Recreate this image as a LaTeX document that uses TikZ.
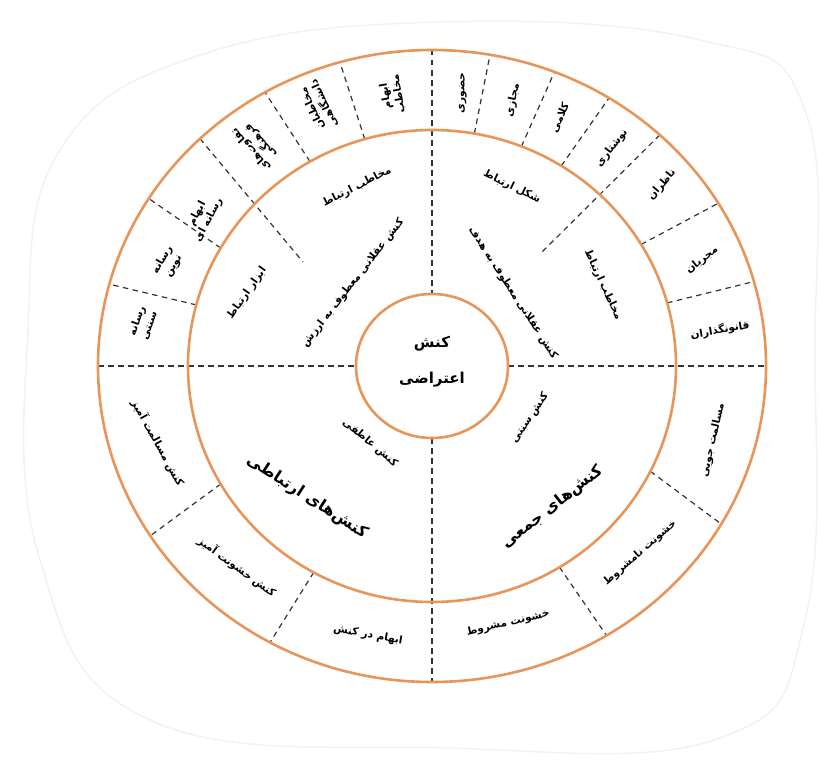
\documentclass[tikz,border=0pt]{standalone}
\usepackage{fontspec}
\newfontfamily\fafont[Script=Arabic]{DejaVu Sans}
\TeXXeTstate=1
\usetikzlibrary{calc}
\definecolor{ring}{HTML}{E8955A}
\newcommand\fatxt[1]{\beginR #1\endR}
\newcommand\ringdiv[2]{\draw[divline] ({432+244*cos(#1)},{366-236*sin(#1)}) -- ({432+334*cos(#2)},{366-316*sin(#2)});}
\begin{document}
\begin{tikzpicture}[x=1pt,y=-1pt,
  ringline/.style={draw=ring,line width=2.6pt},
  divline/.style={draw=black!80,line width=1.2pt,dash pattern=on 5.5pt off 4.5pt},
  lab/.style={font=\fafont\bfseries\fontsize{10.5}{13}\selectfont,align=center,inner sep=1pt},
  midlab/.style={font=\fafont\bfseries\fontsize{10.5}{12}\selectfont,inner sep=1pt},
  biglab/.style={font=\fafont\bfseries\fontsize{16}{18}\selectfont,inner sep=1pt},
  cenlab/.style={font=\fafont\bfseries\fontsize{15}{36}\selectfont,align=center,inner sep=1pt},
]
\useasboundingbox (0,0) rectangle (840,760);
\draw[gray!10,line width=1.5pt] plot[smooth cycle,tension=0.7] coordinates {(60,150) (200,55) (440,22) (700,40) (805,110) (815,350) (805,620) (720,738) (450,748) (150,720) (40,560) (28,330)};
\coordinate (C) at (432,366);
% axis dashes
\draw[divline] (432,50) -- (432,294);
\draw[divline] (432,438) -- (432,682);
\draw[divline] (98,366) -- (356,366);
\draw[divline] (508,366) -- (766,366);
% outer ring dividers
\ringdiv{165}{165}
\ringdiv{150}{148}
\ringdiv{120}{120}
\ringdiv{106}{106}
\ringdiv{80}{80}
\ringdiv{68.5}{68.5}
\ringdiv{58}{58}
\ringdiv{31}{31}
\ringdiv{15.5}{15.5}
\ringdiv{-26.5}{-30}
\ringdiv{-58.5}{-58.5}
\ringdiv{210}{212.5}
\ringdiv{241}{241}
% long dividers
\coordinate (ulend) at (303,262);
\coordinate (urend) at (542,252);
\draw[divline] ({432+334*cos(134)},{366-316*sin(134)}) -- (ulend);
\draw[divline] ({432+334*cos(47)},{366-316*sin(47)}) -- (urend);
% rings
\draw[ringline] (C) ellipse [x radius=334, y radius=316];
\draw[ringline] (C) ellipse [x radius=244, y radius=236];
\draw[ringline,fill=white] (C) ellipse [x radius=76, y radius=72];
% centre
\node[cenlab] (centre) at (432,362) {\fatxt{کنش}\\\fatxt{اعتراضی}};
% middle ring labels
\node[midlab,rotate=27] (m1) at (357,187) {\fatxt{مخاطب ارتباط}};
\node[midlab,rotate=52] (m2) at (353,283) {\fatxt{کنش عقلانی معطوف به ارزش}};
\node[midlab,rotate=55] (m3) at (247,293) {\fatxt{ابزار ارتباط}};
\node[midlab,rotate=-26] (m4) at (512,187) {\fatxt{شکل ارتباط}};
\node[midlab,rotate=-57] (m5) at (513,293) {\fatxt{کنش عقلانی معطوف به هدف}};
\node[midlab,rotate=-65] (m6) at (603,285) {\fatxt{مخاطب ارتباط}};
\node[midlab,rotate=-40] (m7) at (370,443) {\fatxt{کنش عاطفی}};
\node[midlab,rotate=56] (m8) at (530,418) {\fatxt{کنش سنتی}};
\node[biglab,rotate=-33] (m9) at (307,497) {\fatxt{کنش‌های ارتباطی}};
\node[biglab,rotate=38] (m10) at (553,507) {\fatxt{کنش‌های جمعی}};
% outer ring labels, upper left
\node[lab,rotate=70] (o1) at (143,323) {\fatxt{رسانه}\\\fatxt{سنتی}};
\node[lab,rotate=60] (o2) at (168,263) {\fatxt{رسانه}\\\fatxt{نوین}};
\node[lab,rotate=62] (o3) at (203,217) {\fatxt{ابهام}\\\fatxt{رسانه ای}};
\node[lab,rotate=132] (o4) at (256,145) {\fatxt{تفاوت‌های}\\\fatxt{فرهنگی}};
\node[lab,rotate=115] (o5) at (318,106) {\fatxt{مخاطبان}\\\fatxt{دانشگاهی}};
\node[lab,rotate=100] (o6) at (392,95) {\fatxt{ابهام}\\\fatxt{مخاطب}};
% upper right
\node[lab,rotate=88] (o7) at (463,93) {\fatxt{حضوری}};
\node[lab,rotate=78] (o8) at (513,100) {\fatxt{مجازی}};
\node[lab,rotate=66] (o9) at (560,118) {\fatxt{کلامی}};
\node[lab,rotate=52] (o10) at (612,148) {\fatxt{نوشتاری}};
\node[lab,rotate=50] (o11) at (662,185) {\fatxt{ناظران}};
\node[lab,rotate=38] (o12) at (702,260) {\fatxt{مجریان}};
\node[lab,rotate=10] (o13) at (720,330) {\fatxt{قانونگذاران}};
% lower right
\node[lab,rotate=77] (o14) at (713,440) {\fatxt{مسالمت جویی}};
\node[lab,rotate=41] (o15) at (640,553) {\fatxt{خشونت نامشروط}};
\node[lab,rotate=13] (o16) at (508,623) {\fatxt{خشونت مشروط}};
% lower left
\node[lab,rotate=-61] (o17) at (158,443) {\fatxt{کنش مسالمت آمیز}};
\node[lab,rotate=-36] (o18) at (237,567) {\fatxt{کنش خشونت آمیز}};
\node[lab,rotate=-10] (o19) at (368,635) {\fatxt{ابهام در کنش}};
\end{tikzpicture}
\end{document}
